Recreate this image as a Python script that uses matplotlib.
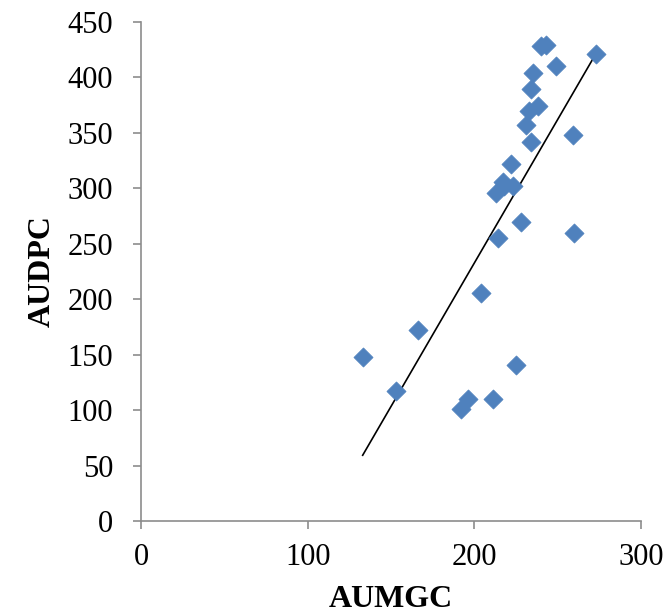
import numpy as np
import matplotlib
matplotlib.use('Agg')
import matplotlib.pyplot as plt

plt.rcParams['font.family'] = ['Liberation Serif', 'DejaVu Serif']

aumgc = [133, 153, 166, 192, 196, 204, 211, 214, 213, 217, 218, 222,
         223, 225, 228, 231, 233, 234, 234, 235, 238, 240, 243, 249,
         259, 260, 273]
audpc = [148, 117, 172, 101, 110, 206, 110, 255, 296, 306, 302, 322,
         302, 141, 270, 357, 370, 390, 342, 404, 374, 428, 429, 410,
         348, 260, 421]

fig = plt.figure(figsize=(6.66, 6.15), dpi=100)
ax = fig.add_axes([0.2117, 0.1528, 0.7508, 0.8114])

ax.scatter(aumgc, audpc, marker='D', s=95, color='#4F81BD',
           edgecolors='#4F81BD', linewidths=0.5, zorder=3)

# linear trend line
slope, intercept = np.polyfit(aumgc, audpc, 1)
xl = np.array([min(aumgc), max(aumgc)])
ax.plot(xl, slope * xl + intercept, color='black', linewidth=1.2, zorder=2)

ax.set_xlim(0, 300)
ax.set_ylim(0, 450)
ax.set_xticks([0, 100, 200, 300])
ax.set_yticks(range(0, 451, 50))

for s in ['top', 'right']:
    ax.spines[s].set_visible(False)
for s in ['left', 'bottom']:
    ax.spines[s].set_color('#8c8c8c')
    ax.spines[s].set_linewidth(1.2)

ax.tick_params(axis='both', direction='out', length=6, width=1.2,
               color='#8c8c8c', labelsize=22, labelcolor='black')
ax.tick_params(axis='y', pad=14)
ax.tick_params(axis='x', pad=10)

ax.set_xlabel('AUMGC', fontsize=23, fontweight='bold', labelpad=9)
ax.set_ylabel('AUDPC', fontsize=23, fontweight='bold', labelpad=8)

fig.savefig('out.png', dpi=100)
